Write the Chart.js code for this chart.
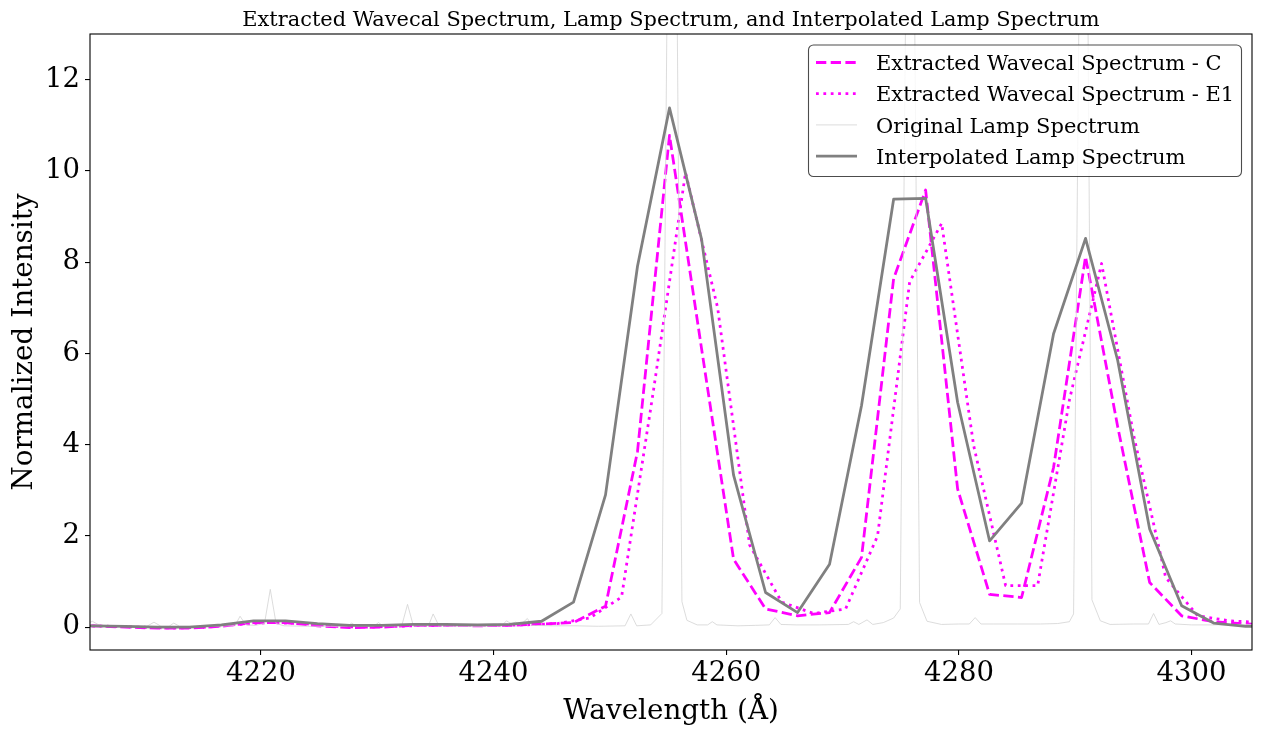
<!DOCTYPE html>
<html>
<head>
<meta charset="utf-8">
<script src="https://cdn.jsdelivr.net/npm/chart.js@4.4.1/dist/chart.umd.min.js"></script>
<style>
  html, body { margin: 0; padding: 0; background: #fff; }
  #wrap { width: 1261px; height: 736px; }
</style>
</head>
<body>
<div id="wrap"><canvas id="chart" width="1261" height="736"></canvas></div>
<script>
// Wavelength grid shared by the C spectrum and the interpolated lamp
const gridWavelengths = [
  4202.85, 4205.60, 4208.35, 4211.10, 4213.85, 4216.60, 4219.36, 4222.11, 4224.86, 4227.61,
  4230.36, 4233.11, 4235.87, 4238.62, 4241.37, 4244.12, 4246.87, 4249.62, 4252.37, 4255.12,
  4257.88, 4260.63, 4263.38, 4266.13, 4268.88, 4271.63, 4274.39, 4277.14, 4279.89, 4282.64,
  4285.39, 4288.14, 4290.89, 4293.65, 4296.40, 4299.15, 4301.90, 4304.65, 4307.40
];
const wavecalC = [
  0.04, 0.03, 0.00, -0.02, -0.02, 0.02, 0.10, 0.10, 0.03, -0.01,
  0.00, 0.04, 0.04, 0.03, 0.04, 0.07, 0.10, 0.46, 3.85, 10.78,
  6.10, 1.49, 0.40, 0.25, 0.32, 1.53, 7.64, 9.58, 3.03, 0.72,
  0.65, 3.50, 8.12, 4.40, 0.98, 0.25, 0.12, 0.07, 0.05
];
const interpLamp = [
  0.04, 0.03, 0.02, 0.00, 0.00, 0.05, 0.14, 0.14, 0.08, 0.04,
  0.04, 0.06, 0.06, 0.05, 0.06, 0.13, 0.55, 2.90, 7.91, 11.38,
  8.50, 3.33, 0.76, 0.32, 1.38, 4.86, 9.38, 9.40, 4.93, 1.89,
  2.72, 6.43, 8.52, 5.85, 2.15, 0.47, 0.09, 0.02, 0.01
];

// E1 spectrum sits on a shifted grid
const gridWavelengthsE1 = [
  4204.23, 4206.98, 4209.73, 4212.48, 4215.23, 4217.98, 4220.74, 4223.49, 4226.24, 4228.99,
  4231.74, 4234.49, 4237.25, 4240.00, 4242.75, 4245.50, 4248.25, 4251.00, 4253.75, 4256.50,
  4259.26, 4262.01, 4264.76, 4267.51, 4270.26, 4273.01, 4275.77, 4278.52, 4281.27, 4284.02,
  4286.77, 4289.52, 4292.27, 4295.03, 4297.78, 4300.53, 4303.28, 4306.03
];
const wavecalE1 = [
  0.03, 0.02, 0.00, -0.02, 0.00, 0.06, 0.10, 0.08, 0.02, 0.00,
  0.02, 0.04, 0.04, 0.04, 0.05, 0.08, 0.20, 0.66, 5.20, 9.96,
  7.00, 1.80, 0.55, 0.30, 0.40, 2.00, 7.57, 8.85, 3.98, 0.91,
  0.91, 5.00, 7.97, 4.20, 1.09, 0.25, 0.14, 0.10
];

// Original (high resolution) lamp spectrum
const lampWavelengths = [
  4203.0, 4204.8, 4205.5, 4206.2, 4208.0, 4210.2, 4210.8, 4211.4, 4212.1, 4212.5,
  4213.0, 4215.0, 4217.5, 4217.8, 4218.2, 4218.7, 4219.5, 4220.3, 4220.8, 4221.3,
  4222.0, 4224.0, 4226.0, 4227.4, 4227.8, 4228.2, 4229.7, 4230.1, 4230.5, 4232.1,
  4232.6, 4233.1, 4234.4, 4234.8, 4235.3, 4237.0, 4239.0, 4240.7, 4241.1, 4241.5,
  4241.9, 4242.3, 4242.9, 4243.3, 4245.0, 4247.0, 4249.0, 4251.3, 4251.8, 4252.3,
  4253.5, 4254.47, 4255.35, 4256.19, 4256.62, 4257.5, 4258.4, 4258.8, 4259.2, 4261.0,
  4262.5, 4263.7, 4264.2, 4264.7, 4266.0, 4268.0, 4270.5, 4270.95, 4271.4, 4272.1,
  4272.6, 4273.5, 4274.39, 4274.96, 4275.82, 4276.62, 4277.26, 4278.5, 4280.0, 4280.9,
  4281.4, 4281.9, 4283.0, 4285.0, 4287.0, 4288.5, 4289.5, 4289.86, 4290.76, 4291.44,
  4292.16, 4293.0, 4295.0, 4296.3, 4296.74, 4297.2, 4297.8, 4298.2, 4298.6, 4300.0,
  4302.0, 4304.0, 4306.0
];
const lampValues = [
  0.04, 0.04, 0.13, 0.03, 0.02, 0.02, 0.11, 0.02, 0.02, 0.09,
  0.02, 0.02, 0.03, 0.05, 0.24, 0.05, 0.04, 0.08, 0.83, 0.08,
  0.03, 0.02, 0.02, 0.02, 0.09, 0.02, 0.02, 0.10, 0.03, 0.03,
  0.50, 0.03, 0.03, 0.29, 0.03, 0.02, 0.02, 0.03, 0.14, 0.08,
  0.11, 0.05, 0.19, 0.04, 0.03, 0.03, 0.02, 0.03, 0.29, 0.03,
  0.05, 0.30, 27.0, 0.56, 0.15, 0.05, 0.05, 0.12, 0.05, 0.03,
  0.04, 0.05, 0.21, 0.06, 0.05, 0.05, 0.06, 0.12, 0.06, 0.16,
  0.06, 0.10, 0.20, 0.40, 25.0, 0.54, 0.13, 0.06, 0.07, 0.07,
  0.21, 0.07, 0.07, 0.07, 0.07, 0.08, 0.12, 0.29, 26.0, 0.60,
  0.14, 0.06, 0.07, 0.07, 0.30, 0.06, 0.10, 0.14, 0.07, 0.05,
  0.05, 0.06, 0.06
];

const xTicks = [4220, 4240, 4260, 4280, 4300];
const yTicks = [0, 2, 4, 6, 8, 10, 12];

const toPoints = (xs, ys) => xs.map((x, i) => ({ x, y: ys[i] }));

const SERIF = '"DejaVu Serif", "Liberation Serif", serif';
const LW = 2.78;

// Frame, title and a matplotlib-like legend drawn over the plot
const frameAndLegend = {
    id: 'frameAndLegend',
    afterDraw(chart) {
        const { ctx, chartArea: a } = chart;
        ctx.save();

        ctx.strokeStyle = '#000';
        ctx.lineWidth = 1.1;
        ctx.strokeRect(a.left, a.top, a.right - a.left, a.bottom - a.top);

        ctx.fillStyle = '#000';
        ctx.font = `20.9px ${SERIF}`;
        ctx.textAlign = 'center';
        ctx.textBaseline = 'alphabetic';
        ctx.fillText('Extracted Wavecal Spectrum, Lamp Spectrum, and Interpolated Lamp Spectrum',
            (a.left + a.right) / 2, 26);

        const lx = 808.5, ly = 45, lw = 433, lh = 131.5;
        ctx.beginPath();
        ctx.roundRect(lx, ly, lw, lh, 5);
        ctx.fillStyle = 'rgba(255,255,255,0.8)';
        ctx.fill();
        ctx.strokeStyle = 'rgba(0,0,0,0.7)';
        ctx.lineWidth = 1.1;
        ctx.stroke();

        ctx.textAlign = 'left';
        ctx.font = `21px ${SERIF}`;
        chart.data.datasets.forEach((ds, i) => {
            const cy = 62.5 + i * 31.2;
            ctx.beginPath();
            ctx.setLineDash(ds.borderDash || []);
            ctx.lineCap = 'butt';
            ctx.lineWidth = ds.borderWidth;
            ctx.strokeStyle = ds.borderColor;
            ctx.moveTo(816, cy);
            ctx.lineTo(857, cy);
            ctx.stroke();
            ctx.setLineDash([]);
            ctx.fillStyle = '#000';
            ctx.fillText(ds.label, 876, cy + 7.6);
        });

        ctx.restore();
    }
};

Chart.defaults.color = '#000';

new Chart(document.getElementById('chart'), {
    type: 'line',
    data: {
        datasets: [
            {
                label: 'Extracted Wavecal Spectrum - C',
                data: toPoints(gridWavelengths, wavecalC),
                borderColor: '#ff00ff',
                borderWidth: LW,
                borderDash: [10.3, 4.4],
                borderCapStyle: 'butt',
                borderJoinStyle: 'round',
                order: 4
            },
            {
                label: 'Extracted Wavecal Spectrum - E1',
                data: toPoints(gridWavelengthsE1, wavecalE1),
                borderColor: '#ff00ff',
                borderWidth: LW,
                borderDash: [2.78, 4.6],
                borderCapStyle: 'butt',
                borderJoinStyle: 'round',
                order: 3
            },
            {
                label: 'Original Lamp Spectrum',
                data: toPoints(lampWavelengths, lampValues),
                borderColor: '#d3d3d3',
                borderWidth: 0.8,
                borderJoinStyle: 'round',
                order: 2
            },
            {
                label: 'Interpolated Lamp Spectrum',
                data: toPoints(gridWavelengths, interpLamp),
                borderColor: '#808080',
                borderWidth: LW,
                borderJoinStyle: 'round',
                order: 1
            }
        ]
    },
    options: {
        responsive: false,
        animation: false,
        devicePixelRatio: 1,
        layout: { padding: { top: 34, right: 9, left: 0, bottom: 0 } },
        elements: { point: { radius: 0 }, line: { tension: 0, fill: false } },
        plugins: {
            legend: { display: false },
            title: { display: false },
            tooltip: { enabled: false }
        },
        scales: {
            x: {
                type: 'linear',
                min: 4205.3,
                max: 4305.2,
                afterBuildTicks: (axis) => { axis.ticks = xTicks.map(v => ({ value: v })); },
                afterFit: (axis) => { axis.height = 86; },
                border: { display: false },
                grid: { drawOnChartArea: false, drawTicks: true, tickLength: 5, color: '#000', lineWidth: 1.1 },
                ticks: {
                    autoSkip: false,
                    maxRotation: 0,
                    padding: 2,
                    font: { family: SERIF, size: 27.5 },
                    callback: (v) => String(v)
                },
                title: {
                    display: true,
                    text: 'Wavelength (Å)',
                    font: { family: SERIF, size: 27.8 },
                    padding: { top: 0, bottom: 8 }
                }
            },
            y: {
                type: 'linear',
                min: -0.5,
                max: 13,
                afterBuildTicks: (axis) => { axis.ticks = yTicks.map(v => ({ value: v })); },
                afterFit: (axis) => { axis.width = 90; },
                border: { display: false },
                grid: { drawOnChartArea: false, drawTicks: true, tickLength: 5, color: '#000', lineWidth: 1.1 },
                ticks: {
                    autoSkip: false,
                    padding: 5,
                    font: { family: SERIF, size: 27.5 },
                    callback: (v) => String(v)
                },
                title: {
                    display: true,
                    text: 'Normalized Intensity',
                    font: { family: SERIF, size: 27.8 },
                    padding: { top: 8, bottom: 0 }
                }
            }
        }
    },
    plugins: [frameAndLegend]
});
</script>
</body>
</html>
